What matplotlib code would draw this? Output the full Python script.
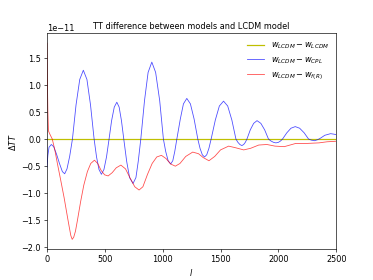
import matplotlib
matplotlib.use("Agg")
import matplotlib.pyplot as plt
import numpy as np

# multipole samples and values (units of 1e-11)
l_cpl = [2, 10, 20, 40, 60, 85, 110, 135, 155, 175, 198, 222,
         253, 285, 316, 347, 378, 409,
         430, 451, 472, 494, 516, 538,
         560, 583, 605, 625, 645, 665,
         690, 715, 745, 770, 790, 812,
         844, 875, 907, 940, 975, 1007,
         1027, 1048, 1070, 1088, 1105, 1123,
         1153, 1180, 1209, 1240, 1272, 1304,
         1323, 1343, 1362, 1381, 1400, 1419,
         1455, 1490, 1526, 1562, 1598, 1633,
         1650, 1667, 1684, 1700, 1714, 1728,
         1757, 1786, 1815, 1848, 1881, 1914,
         1935, 1957, 1978, 2000, 2018, 2035,
         2072, 2108, 2145, 2183, 2222, 2260,
         2285, 2312, 2340, 2365, 2400, 2450, 2480, 2500]
d_cpl = [-0.52, -0.30, -0.15, -0.10, -0.14, -0.28, -0.45, -0.60, -0.64, -0.55, -0.32, 0.0,
         0.63, 1.10, 1.27, 1.10, 0.63, 0.0,
         -0.33, -0.56, -0.65, -0.56, -0.33, 0.0,
         0.34, 0.59, 0.68, 0.59, 0.34, 0.0,
         -0.41, -0.71, -0.82, -0.71, -0.41, 0.0,
         0.71, 1.23, 1.42, 1.23, 0.71, 0.0,
         -0.23, -0.40, -0.46, -0.40, -0.23, 0.0,
         0.37, 0.65, 0.75, 0.65, 0.37, 0.0,
         -0.17, -0.29, -0.33, -0.29, -0.17, 0.0,
         0.35, 0.61, 0.70, 0.61, 0.35, 0.0,
         -0.06, -0.10, -0.12, -0.10, -0.06, 0.0,
         0.17, 0.29, 0.34, 0.29, 0.17, 0.0,
         -0.035, -0.06, -0.07, -0.06, -0.035, 0.0,
         0.115, 0.20, 0.23, 0.20, 0.115, 0.0,
         -0.02, -0.03, -0.01, 0.02, 0.07, 0.10, 0.09, 0.08]

l_fr = [2, 5, 10, 15, 25, 48, 70, 92, 120, 150, 180, 195, 208, 220, 233, 248,
        265, 293, 320, 351, 380, 412, 440, 470, 500, 530, 565, 600, 640, 680,
        720, 760, 797, 830, 870, 910, 950, 990, 1030, 1070, 1110, 1150, 1200,
        1260, 1310, 1350, 1400, 1450, 1500, 1570, 1630, 1700, 1760, 1830, 1900,
        1970, 2050, 2150, 2250, 2350, 2420, 2500]
d_fr = [1.77, 1.20, 0.50, 0.15, 0.10, 0.0, -0.20, -0.45, -0.75, -1.08, -1.45,
        -1.63, -1.78, -1.85, -1.81, -1.70, -1.50, -1.15, -0.85, -0.60, -0.45,
        -0.39, -0.45, -0.58, -0.66, -0.68, -0.62, -0.53, -0.48, -0.55, -0.72,
        -0.88, -0.94, -0.88, -0.65, -0.45, -0.33, -0.30, -0.36, -0.46, -0.50,
        -0.45, -0.32, -0.24, -0.27, -0.34, -0.40, -0.32, -0.20, -0.13, -0.16,
        -0.20, -0.17, -0.11, -0.10, -0.13, -0.14, -0.08, -0.08, -0.07, -0.05,
        -0.04]

l_lcdm = [2, 2500]
d_lcdm = [0.0, 0.0]

scale = 1e-11

fig = plt.figure(figsize=(6.4, 4.8), dpi=58.4)
ax = fig.add_subplot(111)
ax.plot(l_lcdm, np.array(d_lcdm) * scale, color='y', lw=1.5,
        label=r'$w_{LCDM} - w_{LCDM}$')
ax.plot(l_cpl, np.array(d_cpl) * scale, color='b', alpha=0.7, lw=1.0,
        label=r'$w_{LCDM} - w_{CPL}$')
ax.plot(l_fr, np.array(d_fr) * scale, color='r', alpha=0.7, lw=1.0,
        label=r'$w_{LCDM} - w_{f(R)}$')
ax.set_xlim(0, 2500)
ax.set_title('TT difference between models and LCDM model', fontsize=10)
ax.set_xlabel(r'$l$')
ax.set_ylabel(r'$\Delta TT$')
ax.legend(loc='upper right', frameon=False, fontsize=10, handlelength=2.2)
fig.savefig('out.png', dpi=58.4)
